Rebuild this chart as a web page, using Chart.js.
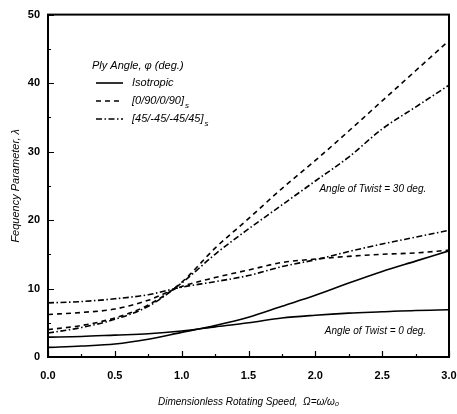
<!DOCTYPE html>
<html lang="en">
<head>
    <meta charset="UTF-8">
    <title>Frequency parameter vs rotating speed</title>
    <script src="https://cdn.jsdelivr.net/npm/chart.js"></script>
    <style>
        body {
            margin: 0;
            padding: 0;
            background-color: #fff;
        }
        .chart-container {
            width: 457px;
            height: 414px;
        }
    </style>
</head>
<body>
<div class="chart-container">
    <canvas id="freqChart"></canvas>
</div>
<script>
    // rotating speed (x) and frequency parameter values
    const speeds = [0, 0.25, 0.5, 0.75, 1.0, 1.25, 1.5, 1.75, 2.0, 2.25, 2.5, 2.75, 3.0];

    const isoRising   = [1.4, 1.6, 1.9, 2.6, 3.6, 4.6, 5.8, 7.4, 9.0, 10.8, 12.5, 14.0, 15.5];
    const isoFlat     = [2.9, 3.0, 3.2, 3.4, 3.8, 4.4, 5.0, 5.7, 6.1, 6.4, 6.6, 6.8, 6.9];
    const crossSteep  = [4.0, 4.6, 5.7, 7.6, 10.9, 15.9, 20.2, 24.6, 28.7, 33.0, 37.4, 41.8, 46.2];
    const crossMid    = [6.2, 6.5, 7.0, 8.3, 10.3, 11.6, 12.7, 13.8, 14.3, 14.7, 15.0, 15.2, 15.6];
    const angleSteep  = [3.5, 4.3, 5.5, 7.4, 10.8, 15.0, 18.7, 22.2, 25.7, 29.2, 33.3, 36.5, 39.7];
    const angleMid    = [7.9, 8.1, 8.5, 9.1, 10.2, 11.0, 11.9, 13.2, 14.2, 15.4, 16.5, 17.5, 18.5];

    const yTicks = [0, 10, 20, 30, 40, 50];
    const xTicks = [0, 0.5, 1.0, 1.5, 2.0, 2.5, 3.0];

    const legendTitle = 'Ply Angle, \u03c6 (deg.)';
    const legendItems = [
        { text: 'Isotropic', sub: '', dash: [] },
        { text: '[0/90/0/90]', sub: 's', dash: [5, 4] },
        { text: '[45/-45/-45/45]', sub: 's', dash: [6, 2.5, 1.5, 2.5] }
    ];
    const twistLabels = [
        { text: 'Angle of Twist = 30 deg.', x: 2.43, y: 24.5 },
        { text: 'Angle of Twist = 0 deg.', x: 2.45, y: 3.8 }
    ];

    const FONT = '"Liberation Sans", Arial, sans-serif';

    function series(values) {
        return values.map((v, i) => ({ x: speeds[i], y: v }));
    }

    function line(values, dash) {
        return {
            data: series(values),
            borderColor: '#000',
            borderWidth: 1.6,
            borderDash: dash,
            pointRadius: 0,
            fill: false,
            cubicInterpolationMode: 'monotone'
        };
    }

    // frame, inward ticks, legend and twist labels
    const decorations = {
        id: 'decorations',
        afterDatasetsDraw(chart) {
            const ctx = chart.ctx;
            const area = chart.chartArea;
            const xs = chart.scales.x;
            const ys = chart.scales.y;
            ctx.save();

            ctx.strokeStyle = '#000';
            ctx.lineWidth = 2;
            ctx.setLineDash([]);
            ctx.strokeRect(area.left, area.top, area.right - area.left, area.bottom - area.top);

            ctx.lineWidth = 1.2;
            ctx.beginPath();
            for (let v = 0; v <= 3.0001; v += 0.25) {
                const px = Math.round(xs.getPixelForValue(v)) + 0.5;
                const len = (Math.abs(v * 2 - Math.round(v * 2)) < 0.01) ? 6 : 3;
                ctx.moveTo(px, area.bottom);
                ctx.lineTo(px, area.bottom - len);
            }
            for (let v = 0; v <= 50; v += 5) {
                const py = Math.round(ys.getPixelForValue(v)) + 0.5;
                const len = v % 10 === 0 ? 6 : 3;
                ctx.moveTo(area.left, py);
                ctx.lineTo(area.left + len, py);
            }
            ctx.stroke();

            // legend
            ctx.fillStyle = '#000';
            ctx.textBaseline = 'middle';
            ctx.font = 'italic 11px ' + FONT;
            ctx.fillText(legendTitle, 92, 66);
            legendItems.forEach((item, i) => {
                const y = 83 + i * 18;
                ctx.setLineDash(item.dash);
                ctx.lineWidth = 1.6;
                ctx.beginPath();
                ctx.moveTo(96, y);
                ctx.lineTo(123, y);
                ctx.stroke();
                ctx.setLineDash([]);
                ctx.font = 'italic 11px ' + FONT;
                ctx.fillText(item.text, 132, y);
                if (item.sub) {
                    const w = ctx.measureText(item.text).width;
                    ctx.font = 'italic 8px ' + FONT;
                    ctx.fillText(item.sub, 132 + w + 1, y + 5);
                }
            });

            ctx.font = 'italic 10px ' + FONT;
            ctx.textAlign = 'center';
            twistLabels.forEach(l => {
                ctx.fillText(l.text, xs.getPixelForValue(l.x), ys.getPixelForValue(l.y));
            });
            ctx.restore();
        }
    };

    const ctx = document.getElementById('freqChart').getContext('2d');
    new Chart(ctx, {
        type: 'line',
        data: {
            datasets: [
                line(isoRising, []),
                line(isoFlat, []),
                line(crossSteep, [5, 4]),
                line(crossMid, [5, 4]),
                line(angleSteep, [6, 2.5, 1.5, 2.5]),
                line(angleMid, [6, 2.5, 1.5, 2.5])
            ]
        },
        options: {
            responsive: true,
            maintainAspectRatio: false,
            animation: false,
            layout: { padding: { top: 10, right: 0, left: 0, bottom: 0 } },
            plugins: {
                legend: { display: false },
                tooltip: { enabled: false }
            },
            scales: {
                x: {
                    type: 'linear',
                    min: 0,
                    max: 3,
                    afterFit: s => {
                        s.height = 57;
                        s.paddingLeft = 0;
                        s.paddingRight = 8;
                    },
                    afterBuildTicks: s => { s.ticks = xTicks.map(v => ({ value: v })); },
                    grid: { display: false, drawTicks: false },
                    border: { display: false },
                    ticks: {
                        padding: 12,
                        color: '#000',
                        font: { family: FONT, size: 11, weight: 'bold' },
                        callback: v => v.toFixed(1)
                    },
                    title: {
                        display: true,
                        text: 'Dimensionless Rotating Speed,  \u03a9=\u03c9/\u03c9\u2080',
                        color: '#000',
                        font: { family: FONT, size: 10, style: 'italic' },
                        padding: { top: 8, bottom: 6 }
                    }
                },
                y: {
                    min: 0,
                    max: 50,
                    afterFit: s => { s.width = 48; },
                    afterBuildTicks: s => { s.ticks = yTicks.map(v => ({ value: v })); },
                    grid: { display: false, drawTicks: false },
                    border: { display: false },
                    ticks: {
                        padding: 8,
                        color: '#000',
                        font: { family: FONT, size: 11, weight: 'bold' }
                    },
                    title: {
                        display: true,
                        text: 'Fequency Parameter, \u03bb',
                        color: '#000',
                        font: { family: FONT, size: 11, style: 'italic' },
                        padding: { top: 9, bottom: 0 }
                    }
                }
            }
        },
        plugins: [decorations]
    });
</script>
</body>
</html>
